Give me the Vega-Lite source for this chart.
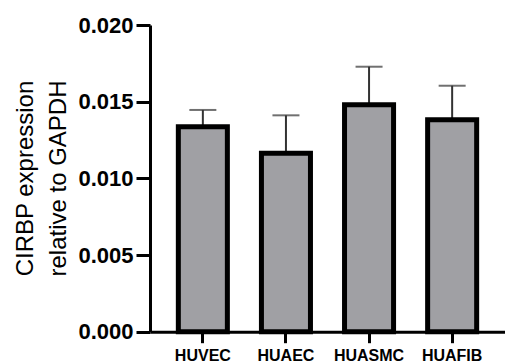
{
  "$schema": "https://vega.github.io/schema/vega-lite/v6.json",
  "autosize": {"type": "none"},
  "width": 355,
  "height": 306.7,
  "padding": {"left": 150, "top": 25, "right": 0, "bottom": 31.3},
  "background": "white",
  "config": {
    "view": {"stroke": null},
    "axis": {"domainColor": "black", "tickColor": "black", "labelColor": "black", "titleColor": "black", "grid": false, "labelFont": "Liberation Sans", "titleFont": "Liberation Sans"}
  },
  "data": {
    "values": [
      {"cell": "HUVEC", "mean": 0.01336, "upper": 0.01446},
      {"cell": "HUAEC", "mean": 0.01164, "upper": 0.01411},
      {"cell": "HUASMC", "mean": 0.0148, "upper": 0.01728},
      {"cell": "HUAFIB", "mean": 0.01382, "upper": 0.01604}
    ]
  },
  "encoding": {
    "x": {
      "field": "cell", "type": "nominal", "sort": null,
      "scale": {"paddingInner": 0.41, "paddingOuter": 0.341},
      "axis": {"title": null, "labelAngle": 0, "labelFontSize": 16, "labelFontWeight": "bold", "domainWidth": 3, "tickWidth": 3, "tickSize": 11, "labelPadding": 5}
    }
  },
  "layer": [
    {
      "mark": {"type": "rule", "color": "#333333", "strokeWidth": 2},
      "encoding": {
        "y": {"field": "mean", "type": "quantitative"},
        "y2": {"field": "upper"}
      }
    },
    {
      "mark": {"type": "tick", "color": "#333333", "thickness": 2, "size": 27, "orient": "horizontal"},
      "encoding": {
        "y": {"field": "upper", "type": "quantitative"}
      }
    },
    {
      "mark": {"type": "bar", "fill": "#a0a0a4", "stroke": "black", "strokeWidth": 5},
      "encoding": {
        "y": {
          "field": "mean", "type": "quantitative",
          "scale": {"domain": [0, 0.02], "nice": false},
          "axis": {
            "title": ["CIRBP expression", "relative to GAPDH"],
            "values": [0, 0.005, 0.01, 0.015, 0.02],
            "format": ".3f",
            "labelFontSize": 22, "labelFontWeight": "bold", "labelPadding": 3,
            "domainWidth": 3, "tickWidth": 3, "tickSize": 14,
            "titleFontSize": 24, "titleFontWeight": "normal",
            "titleAngle": 270, "titleBaseline": "alphabetic", "titleAlign": "center",
            "titleX": -118, "titleY": 153, "titleLineHeight": 33
          }
        }
      }
    }
  ]
}
